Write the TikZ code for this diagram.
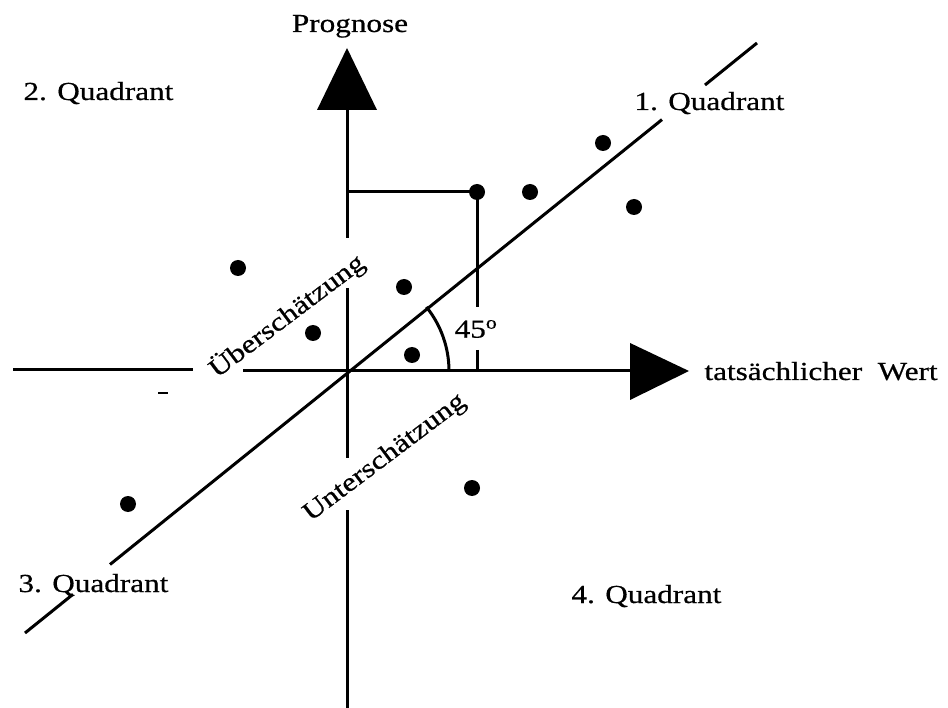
\documentclass[tikz,border=0pt]{standalone}
\usepackage{fontspec}
\setmainfont{Liberation Serif}[FakeStretch=1.2,FakeBold=0.6]
\begin{document}
\begin{tikzpicture}[x=1pt,y=-1pt,line width=3pt,
  dot/.style={circle,fill=black,inner sep=0pt,minimum size=16pt},
  lbl/.style={inner sep=0pt,font=\fontsize{26}{30}\selectfont},
  tip/.style={fill=black}]
\useasboundingbox (0,0) rectangle (948,708);
% axes
\coordinate (O) at (347,371);
\coordinate (ytop) at (347,48);
\coordinate (xtip) at (689,371);
\draw (347,110) -- (347,238);
\draw (347,288) -- (347,458);
\draw (347,510) -- (347,708);
\draw (13,370) -- (193,370);
\draw (243,371) -- (632,371);
\fill[tip] (317,110) -- (ytop) -- (377,110) -- cycle;
\fill[tip] (630,343) -- (xtip) -- (630,400) -- cycle;
% diagonal (45 degree line)
\draw (25,633) -- (73,594.3);
\draw (110,564.5) -- (662,119.6);
\draw (705,85) -- (757,43);
% angle arc
\draw (449,371) arc[start angle=0,end angle=-38.9,radius=102];
% small mark
\draw[line width=2pt] (158,393) -- (168,393);
% dots
\node[dot] (p1) at (477,192) {};
\node[dot] (p2) at (530,192) {};
\node[dot] (p3) at (603,143) {};
\node[dot] (p4) at (634,207) {};
\node[dot] (p5) at (238,268) {};
\node[dot] (p6) at (404,287) {};
\node[dot] (p7) at (313,333) {};
\node[dot] (p8) at (412,355) {};
\node[dot] (p9) at (128,504) {};
\node[dot] (p10) at (472,488) {};
% projection lines
\coordinate (py) at (347,192);
\coordinate (pa) at (477,307);
\coordinate (pb) at (477,350);
\coordinate (px) at (477,371);
\draw (py) -- (p1.center) -- (pa);
\draw (pb) -- (px);
% labels
\node[lbl,anchor=base] (prog) at (350,32) {Prognose};
\node[lbl,anchor=base west] (q2) at (22,100) {2. Quadrant};
\node[lbl,anchor=base west] (q1) at (633,110) {1. Quadrant};
\node[lbl,anchor=base west] (q3) at (17,592) {3. Quadrant};
\node[lbl,anchor=base west] (q4) at (570,603) {4. Quadrant};
\node[lbl,anchor=base west] (tw) at (703,380) {tatsächlicher\ \ Wert};
\node[lbl] (deg) at (476,329) {45\textsuperscript{o}};
\node[lbl,rotate=37] (ueb) at (287,316) {Überschätzung};
\node[lbl,rotate=37] (unt) at (385,458) {Unterschätzung};
\end{tikzpicture}
\end{document}
